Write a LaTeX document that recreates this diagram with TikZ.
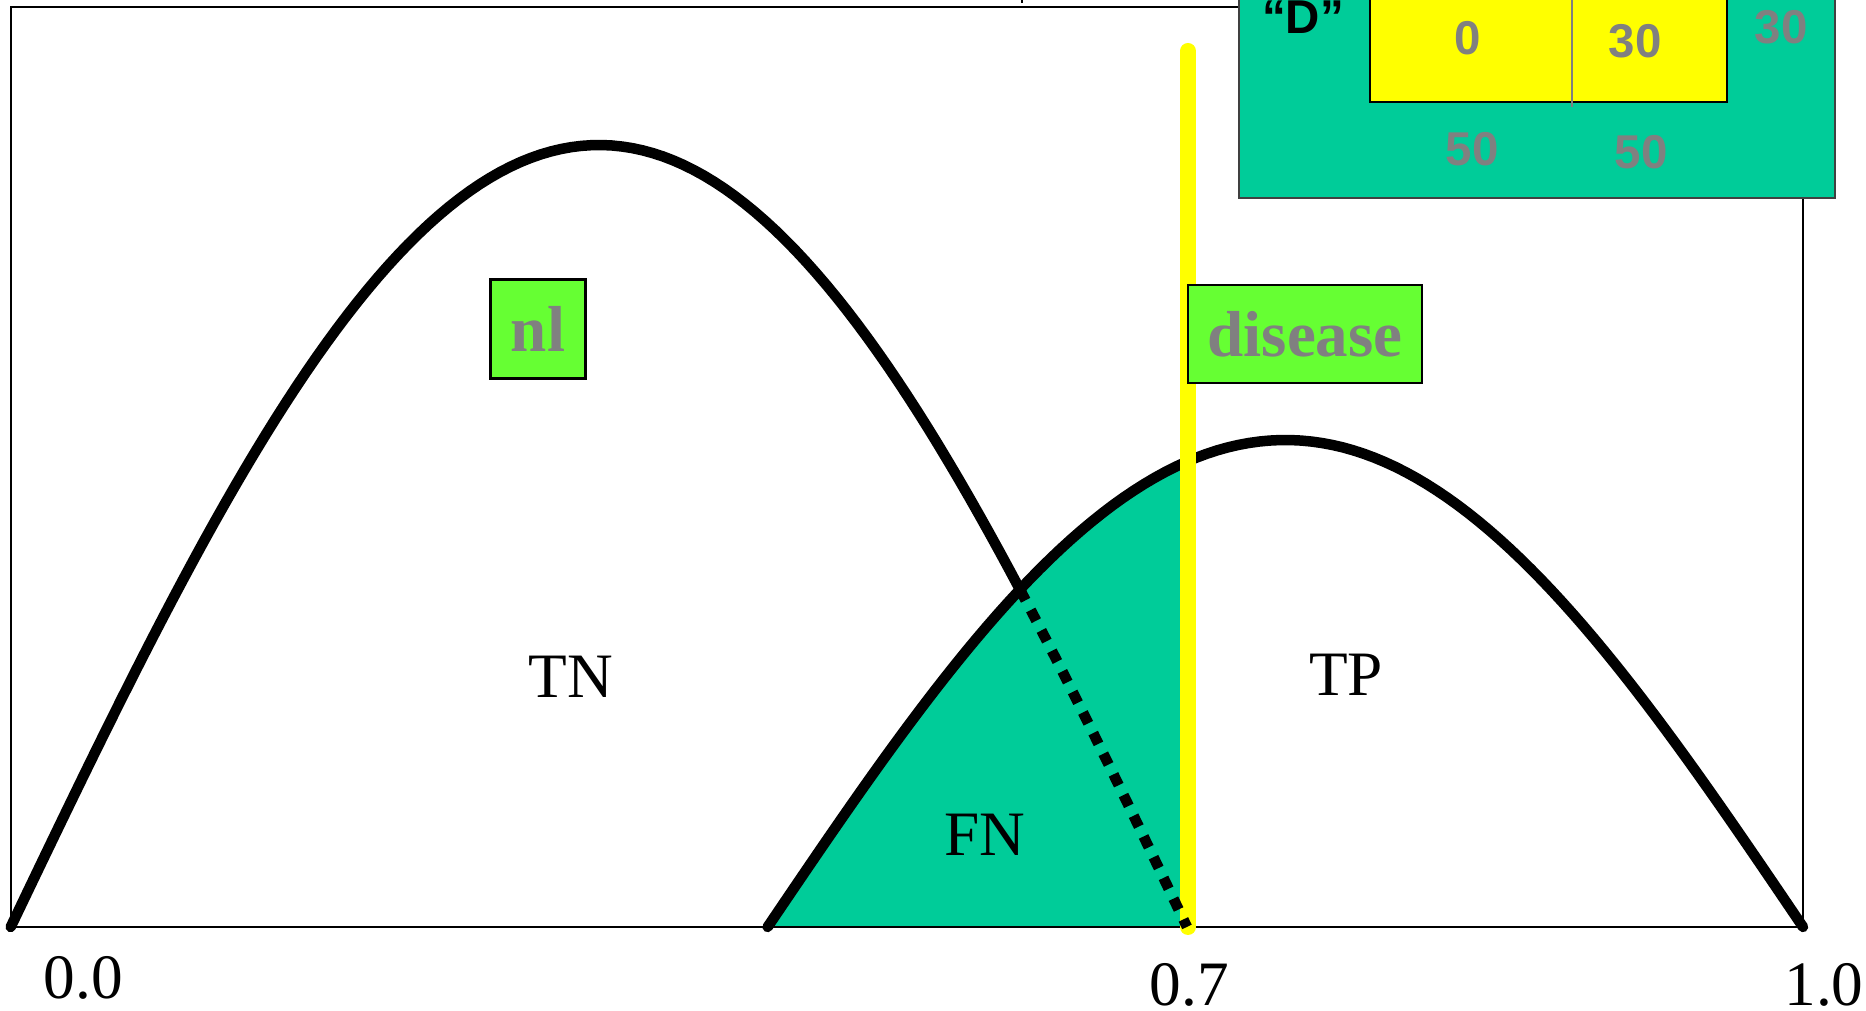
\documentclass[tikz,border=0pt]{standalone}
\usepackage{fontspec}
\setmainfont{Liberation Serif}
\newfontfamily\arialfont{Liberation Sans}
\definecolor{fnteal}{HTML}{00CC99}
\definecolor{cutyellow}{HTML}{FFFF00}
\definecolor{boxgreen}{HTML}{66FF33}
\definecolor{textgrey}{HTML}{808080}

\begin{document}
\begin{tikzpicture}
    \tikzset{
        framestyle/.style={black, line width=0.6pt},
        curvestyle/.style={black, line width=0.105cm, line cap=round},
        dotstyle/.style={black, line width=0.105cm, dash pattern=on 0.12cm off 0.11cm},
        cutstyle/.style={cutyellow, line width=0.16cm, line cap=round},
        classbox/.style={draw=black, line width=0.6pt, fill=boxgreen, inner sep=0pt,
            font=\fontsize{18.5}{20}\selectfont\bfseries, text=textgrey},
        arealabel/.style={font=\fontsize{18}{20}\selectfont},
        ticklabel/.style={font=\fontsize{18}{20}\selectfont, inner sep=0pt},
        tabnum/.style={font=\arialfont\fontsize{13.5}{15}\selectfont\bfseries, text=textgrey},
        declare function={
            fnl(\x)=0.84+7.82*sin(180*(\x-0.107)/11.763);
            fdis(\x)=0.84+4.87*sin(180*(\x-7.676)/10.354);
        }
    }
    \useasboundingbox (0,0) rectangle (18.66,10.11);
    \clip (0,0) rectangle (18.66,10.11);

    % Zone FN (sous la courbe malade, a gauche du seuil)
    \fill[fnteal] (7.676,0.84) -- plot[domain=7.676:11.88, samples=60] (\x,{fdis(\x)})
        -- (11.88,0.84) -- cycle;

    % Cadre
    \draw[framestyle] (0.11,0.84) rectangle (18.03,10.04);

    % Courbes
    \draw[curvestyle] plot[domain=7.676:18.03, samples=100] (\x,{fdis(\x)});
    \draw[curvestyle] plot[domain=0.107:10.2, samples=100] (\x,{fnl(\x)});

    % Seuil 0.7
    \draw[cutstyle] (11.88,0.84) -- (11.88,9.60);
    \draw[dotstyle] plot[domain=10.2:11.87, samples=30] (\x,{fnl(\x)});

    % Etiquettes
    \node[classbox, minimum width=0.95cm, minimum height=0.99cm] (nl) at (5.38,6.82) {nl};
    \node[classbox, minimum width=2.34cm, minimum height=0.98cm] (disease) at (13.05,6.77) {disease};
    \node[arealabel] (tn) at (5.71,3.34) {TN};
    \node[arealabel] (tp) at (13.46,3.36) {TP};
    \node[arealabel] (fn) at (9.85,1.76) {FN};
    \node[ticklabel] (x00) at (0.835,0.33) {0.0};
    \node[ticklabel] (x07) at (11.895,0.26) {0.7};
    \node[ticklabel] (x10) at (18.24,0.26) {1.0};

    % Tableau "D"
    \draw[fill=fnteal, draw=black!75, line width=0.5pt] (12.39,8.13) rectangle (18.35,10.5);
    \draw[fill=cutyellow, draw=black, line width=0.7pt] (13.70,9.09) rectangle (17.27,10.5);
    \draw[gray, line width=0.5pt] (15.72,10.5) -- (15.72,9.04);
    \node[tabnum, text=black] (dlab) at (13.03,9.94) {“D”};
    \node[tabnum] (t00) at (14.68,9.73) {0};
    \node[tabnum] (t01) at (16.35,9.70) {30};
    \node[tabnum] (t02) at (17.81,9.84) {30};
    \node[tabnum] (t10) at (14.72,8.62) {50};
    \node[tabnum] (t11) at (16.41,8.59) {50};

    \draw[framestyle] (10.22,10.11) -- (10.22,10.08);
\end{tikzpicture}
\end{document}
